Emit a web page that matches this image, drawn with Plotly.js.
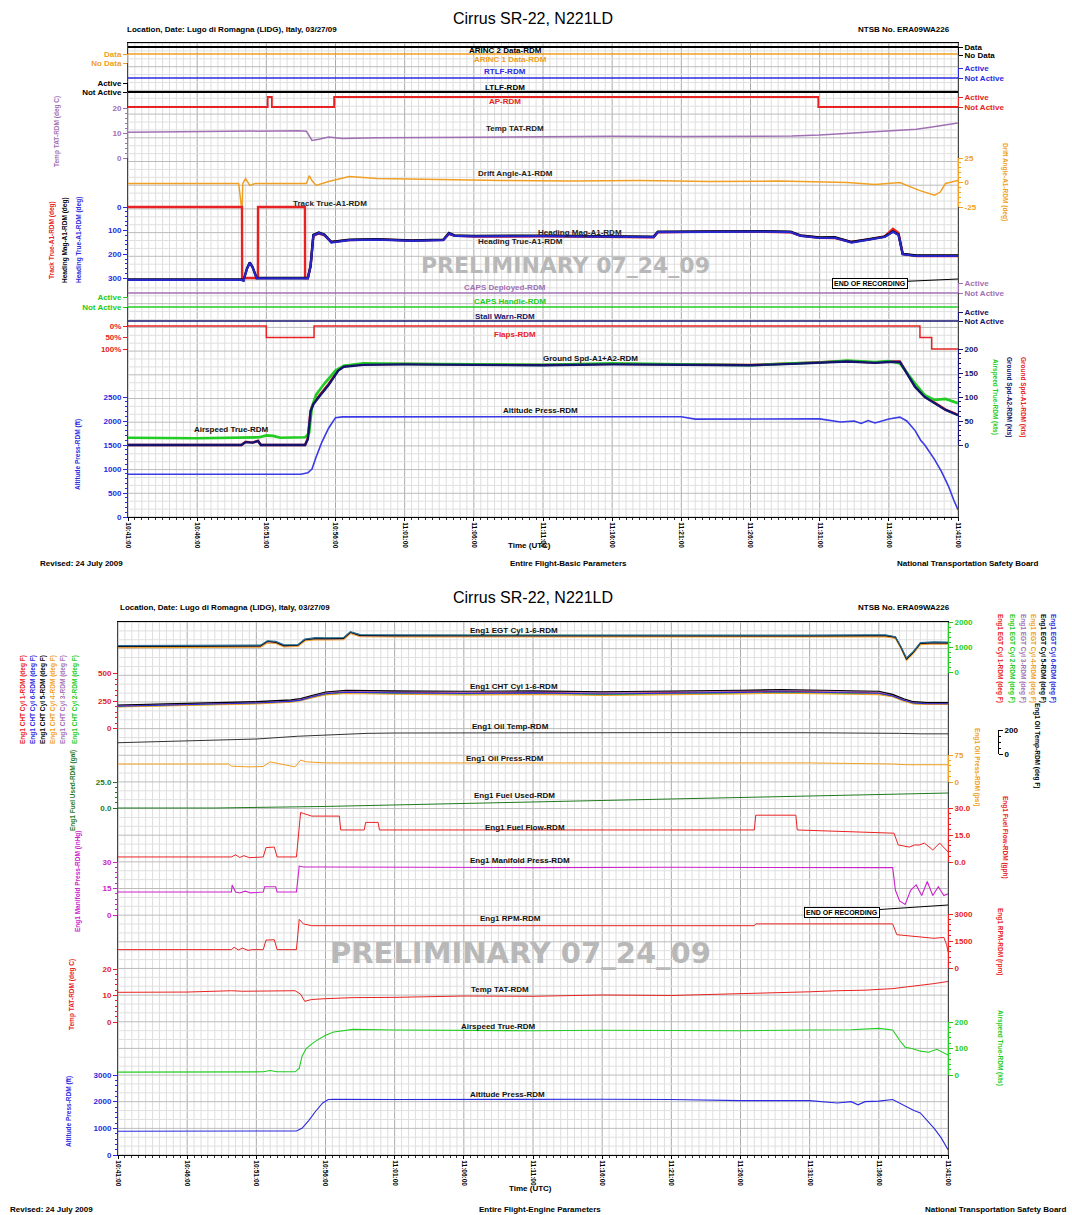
<!DOCTYPE html>
<html>
<head>
<meta charset="utf-8">
<script src="https://cdn.plot.ly/plotly-3.0.1.min.js"></script>
<style>html,body{margin:0;padding:0;background:#fff;}#chart{width:1072px;height:1215px;}</style>
</head>
<body>
<div id="chart"></div>
<script>
// ================= DATA =================
const tickMinutes = [0, 5, 10, 15, 20, 25, 30, 35, 40, 45, 50, 55, 60];
const tickLabels = ['10:41:00','10:46:00','10:51:00','10:56:00','11:01:00','11:06:00','11:11:00','11:16:00','11:21:00','11:26:00','11:31:00','11:36:00','11:41:00'];

// ---- Basic parameters (top chart) ----
const tFull = [0, 60];
const arinc2Data = [1, 1];
const arinc1Data = [1, 1];
const rtlf = [0, 0];
const ltlf = [0, 0];
const tAp = [0, 10.1, 10.1, 10.4, 10.4, 14.9, 14.9, 49.9, 49.9, 60];
const apState = [0, 0, 1, 1, 0, 0, 1, 1, 0, 0];
const capsDeployed = [0, 0];
const capsHandle = [0, 0];
const stallWarn = [0, 0];
const tFlaps = [0, 10.0, 10.0, 13.45, 13.45, 57.25, 57.25, 58.1, 58.1, 60];
const flapsPct = [0, 0, 50, 50, 0, 0, 50, 50, 100, 100];

const tTatTop = [0, 5, 8.5, 10, 12.3, 12.9, 13.3, 13.8, 14.5, 15.5, 18, 25, 30, 35, 40, 45, 48, 50, 52, 54, 56, 57, 58, 59, 60];
const tatTop = [10.3, 10.5, 10.8, 10.9, 10.9, 10.7, 7.0, 7.5, 8.4, 7.8, 8.1, 8.3, 8.6, 8.7, 8.6, 8.8, 8.8, 9.2, 9.8, 10.4, 11.0, 11.5, 12.3, 13.1, 14.0];

const tDrift = [0, 8.0, 8.2, 8.25, 8.3, 8.5, 8.8, 9.2, 12.9, 13.1, 13.3, 13.6, 14.5, 16, 18, 22, 27, 32, 37, 42, 47, 52, 54, 55.8, 57.2, 58.3, 58.7, 59.1, 60];
const driftAngle = [-1, -1, -25, -25, -1, 4, -3, -1, -1, 7, 2, -3, 1, 6, 4, 3, 2, 1.5, 2, 1, 1.5, 0, -2, 0, -8, -13, -10, -1, 2];

const tHdg = [0, 8.2, 8.35, 8.6, 8.8, 9.0, 9.3, 13.0, 13.2, 13.4, 13.8, 14.2, 14.7, 16, 18, 20.5, 22.8, 23.2, 23.6, 25, 30, 35, 38.0, 38.3, 42, 46, 47.9, 48.6, 50.0, 51.1, 52.3, 53.6, 54.7, 55.3, 55.7, 56.0, 57, 60];
const headingTrue = [308, 308, 312, 262, 236, 255, 302, 302, 250, 120, 110, 118, 150, 140, 138, 143, 140, 112, 122, 124, 123, 125, 127, 106, 104, 104, 106, 122, 131, 130, 150, 138, 127, 105, 118, 200, 207, 207];
const headingMag = [306, 306, 310, 260, 234, 253, 300, 300, 248, 118, 108, 116, 148, 138, 136, 141, 138, 110, 120, 122, 121, 123, 125, 104, 102, 102, 104, 120, 129, 128, 148, 136, 125, 103, 116, 198, 205, 205];
const tTrk = [0, 8.24, 8.25, 9.39, 9.4, 12.79, 12.8, 13.0, 13.2, 13.4, 13.8, 14.2, 14.7, 16, 18, 20.5, 22.8, 23.2, 23.6, 25, 30, 35, 38.0, 38.3, 42, 46, 47.9, 48.6, 50.0, 51.1, 52.3, 53.6, 54.7, 55.3, 55.7, 56.0, 57, 60];
const trackTrue = [0, 0, 300, 300, 0, 0, 300, 300, 250, 122, 112, 120, 148, 140, 137, 142, 139, 114, 121, 125, 124, 126, 128, 107, 104, 105, 107, 121, 130, 131, 148, 137, 124, 92, 110, 198, 207, 207];

const tGs = [0, 8.2, 8.5, 9.0, 9.4, 9.6, 12.8, 13.0, 13.2, 13.4, 13.8, 14.5, 15.2, 15.6, 17, 20, 25, 30, 35, 40, 45, 48, 50, 52, 54, 55, 55.8, 56.9, 57.6, 58.3, 59.1, 60];
const groundSpdA1 = [0, 0, 7, 5, 9, 0, 0, 14, 72, 87, 102, 127, 156, 164, 168, 169, 168, 167, 169, 168, 167, 170, 173, 175, 172, 174, 174, 122, 101, 89, 74, 63];
const groundSpdA2 = [0, 0, 6, 5, 8, 0, 0, 12, 70, 85, 100, 125, 155, 163, 167, 168, 167, 166, 168, 167, 166, 169, 172, 174, 171, 173, 173, 121, 100, 88, 73, 62];
const tTasTop = [0, 5, 9.5, 10.0, 10.5, 11, 12.8, 13.1, 13.3, 13.6, 14.2, 15, 15.6, 17, 20, 25, 30, 35, 40, 45, 48, 50, 52, 54, 55, 55.8, 56.9, 57.6, 58.3, 59.1, 60];
const tasTop = [15, 14, 16, 20, 19, 15, 16, 25, 80, 105, 128, 155, 165, 170, 169, 168, 167, 170, 168, 166, 170, 172, 176, 173, 175, 170, 128, 104, 94, 96, 87];

const tAltTop = [0, 10, 12.5, 13.0, 13.3, 13.6, 14.0, 14.5, 15.0, 15.5, 20, 25, 30, 35, 40, 41, 45, 50, 51.5, 52.5, 53, 53.5, 54, 55, 55.8, 56.3, 56.9, 57.3, 57.6, 58.3, 58.8, 59.3, 59.7, 60];
const altTop = [890, 900, 890, 920, 1000, 1250, 1550, 1850, 2070, 2085, 2085, 2080, 2090, 2085, 2090, 2040, 2040, 2045, 1980, 2000, 1950, 2010, 1960, 2040, 2080, 2000, 1800, 1600, 1500, 1200, 950, 650, 350, 150];

// ---- Engine parameters (bottom chart) ----
const tEgt = [0, 5, 8.2, 10.3, 10.8, 11.4, 12.0, 13.0, 13.5, 14.3, 15.0, 16.3, 16.8, 17.5, 20, 25, 30, 35, 40, 45, 50, 54, 55.5, 56.2, 56.6, 57.0, 57.5, 58, 59, 60];
const egtCyl1 = [1030, 1030, 1040, 1050, 1230, 1200, 1060, 1080, 1300, 1350, 1340, 1350, 1600, 1470, 1460, 1460, 1450, 1450, 1450, 1450, 1450, 1460, 1460, 1400, 1000, 520, 800, 1150, 1180, 1170];
const egtCyl2 = [1060, 1055, 1065, 1080, 1260, 1230, 1090, 1100, 1320, 1380, 1370, 1380, 1620, 1500, 1490, 1485, 1480, 1480, 1475, 1480, 1480, 1490, 1490, 1420, 1020, 560, 830, 1180, 1210, 1200];
const egtCyl3 = [1010, 1010, 1020, 1030, 1200, 1180, 1040, 1060, 1280, 1330, 1320, 1330, 1580, 1450, 1440, 1440, 1435, 1430, 1435, 1430, 1435, 1440, 1445, 1380, 980, 500, 780, 1130, 1160, 1150];
const egtCyl4 = [990, 995, 1000, 1010, 1180, 1160, 1020, 1040, 1260, 1310, 1300, 1310, 1560, 1430, 1420, 1420, 1415, 1410, 1415, 1410, 1415, 1420, 1425, 1360, 960, 480, 760, 1110, 1140, 1130];
const egtCyl5 = [1045, 1040, 1050, 1065, 1250, 1215, 1075, 1090, 1310, 1365, 1355, 1365, 1610, 1485, 1475, 1470, 1465, 1465, 1460, 1465, 1465, 1475, 1475, 1410, 1010, 540, 815, 1165, 1195, 1185];
const egtCyl6 = [1075, 1070, 1080, 1095, 1270, 1245, 1105, 1115, 1335, 1395, 1385, 1395, 1635, 1515, 1505, 1500, 1495, 1495, 1490, 1495, 1495, 1505, 1505, 1435, 1040, 580, 845, 1195, 1225, 1215];

const tCht = [0, 5, 10, 12.5, 13.2, 14, 15, 16.5, 18, 20, 25, 30, 35, 40, 45, 48, 50, 53, 55, 56, 56.8, 57.5, 58.5, 60];
const chtCyl1 = [205, 218, 235, 250, 262, 290, 320, 335, 330, 330, 325, 330, 320, 325, 335, 340, 335, 330, 325, 300, 260, 235, 228, 228];
const chtCyl2 = [198, 212, 228, 244, 255, 282, 310, 325, 320, 318, 312, 318, 308, 312, 322, 328, 324, 318, 314, 292, 252, 228, 222, 222];
const chtCyl3 = [210, 224, 240, 256, 268, 296, 326, 342, 338, 336, 330, 336, 328, 332, 342, 348, 342, 336, 332, 306, 266, 240, 232, 233];
const chtCyl4 = [195, 208, 224, 240, 252, 278, 305, 318, 314, 312, 305, 310, 300, 305, 315, 320, 316, 312, 308, 288, 248, 224, 218, 218];
const chtCyl5 = [214, 228, 244, 260, 272, 300, 332, 348, 344, 342, 338, 342, 334, 338, 348, 354, 348, 342, 338, 310, 270, 244, 236, 236];
const chtCyl6 = [202, 215, 232, 247, 258, 286, 316, 330, 326, 324, 318, 324, 314, 318, 328, 334, 330, 324, 320, 296, 256, 232, 225, 225];

const tOilT = [0, 10, 13, 15, 18, 20, 30, 40, 50, 55, 56.5, 58, 60];
const oilTemp = [94, 125, 148, 160, 172, 175, 178, 178, 177, 176, 172, 168, 168];
const tOilP = [0, 8.0, 8.2, 9.5, 10.5, 11.0, 11.5, 12.8, 13.2, 13.6, 15, 20, 30, 40, 50, 56, 57, 60];
const oilPress = [50, 50, 44, 42, 43, 56, 52, 42, 61, 56, 53, 53, 53, 53, 53, 50, 48, 48];
const tFuelUsed = [0, 7.0, 15, 20, 30, 40, 50, 56, 60];
const fuelUsed = [0, 0, 1.5, 3, 6, 9, 12, 13.5, 14.4];
const tFuelFlow = [0, 8.2, 8.5, 8.8, 9.1, 9.5, 10.5, 10.7, 11.3, 11.5, 12.9, 13.2, 13.4, 14.0, 16.0, 16.1, 17.8, 17.9, 18.8, 18.9, 30, 46.0, 46.1, 49.0, 49.1, 56.1, 56.4, 56.8, 57.2, 57.6, 57.9, 58.3, 58.9, 59.4, 60];
const fuelFlow = [2.8, 2.8, 4.0, 2.5, 3.5, 2.4, 2.8, 8.0, 8.3, 2.8, 2.8, 27.5, 27.0, 25.5, 25.5, 17.8, 17.8, 22.0, 22.0, 17.8, 17.8, 17.8, 26.0, 26.0, 17.8, 16.0, 9.5, 9.0, 8.3, 9.5, 9.4, 10.5, 6.7, 10.5, 5.6];
const tMap = [0, 8.2, 8.25, 8.5, 8.8, 9.2, 9.6, 10.5, 10.6, 11.4, 11.5, 12.9, 13.1, 13.4, 15, 20, 30, 40, 50, 56.0, 56.2, 56.5, 56.9, 57.3, 57.7, 58.1, 58.5, 58.9, 59.3, 59.7, 60];
const manifoldPress = [13, 13, 17, 13, 12.5, 13.5, 12.5, 13, 16, 16, 13, 13, 27.7, 27.2, 27.2, 27.0, 26.8, 27.0, 27.0, 26.8, 14, 8, 6, 14, 17, 11, 19, 11, 16, 11, 12];
const tRpm = [0, 8.2, 8.4, 8.7, 9.0, 9.4, 9.7, 10.5, 10.7, 11.3, 11.5, 12.9, 13.1, 13.4, 14.0, 20, 30, 40, 46.0, 46.1, 50, 56.0, 56.3, 57, 58, 59, 59.7, 59.9, 60];
const rpm = [1020, 1020, 1150, 1000, 1100, 980, 1020, 1020, 1550, 1570, 1020, 1020, 2700, 2450, 2350, 2350, 2340, 2350, 2350, 2450, 2450, 2450, 1850, 1800, 1750, 1650, 1700, 1300, 900];
const tTatBot = [0, 5, 8.2, 9, 12.8, 13.2, 13.5, 14.0, 15, 17, 20, 25, 30, 35, 40, 45, 50, 52, 54, 56, 57, 58, 59, 60];
const tatBot = [11.2, 11.3, 11.8, 11.6, 11.8, 10.5, 7.8, 8.5, 8.8, 9.2, 9.3, 9.8, 9.7, 10.2, 10.0, 10.6, 11.4, 11.8, 12.0, 12.6, 13.2, 13.8, 14.5, 15.3];
const tTasBot = [0, 5, 10.5, 11.0, 11.5, 12.8, 13.1, 13.3, 13.6, 14.2, 15, 15.6, 17, 20, 25, 30, 35, 40, 45, 50, 53, 55, 56.0, 56.5, 56.9, 57.4, 58, 58.6, 59.2, 60];
const tasBot = [11, 11, 12, 17, 12, 12, 25, 70, 100, 125, 150, 162, 172, 170, 168, 167, 169, 168, 167, 170, 171, 176, 170, 131, 105, 100, 90, 86, 97, 75];
const tAltBot = [0, 10, 12.9, 13.3, 13.8, 14.3, 14.8, 15.2, 15.6, 20, 25, 30, 35, 40, 45, 50, 52, 53, 53.5, 54, 55, 56.0, 56.5, 57.0, 57.5, 58.0, 58.5, 59.0, 59.5, 60];
const altBot = [890, 900, 900, 1000, 1300, 1650, 1950, 2080, 2090, 2080, 2090, 2080, 2090, 2080, 2040, 2040, 1950, 2000, 1880, 2000, 2020, 2080, 1950, 1800, 1680, 1580, 1300, 1000, 650, 200];

// ================= STYLE / LAYOUT =================
const W = 1072, H = 1215;
const PX = p => p / W, PY = p => 1 - p / H;
const FONT = 'Liberation Sans, Arial, sans-serif';
const NARROW = 'Liberation Sans Narrow, Liberation Sans, Arial, sans-serif';
const C = {
  black:'#000000', orange:'#f0a024', blue:'#2a2ae0', red:'#e82222', purple:'#a070b4',
  green:'#22cc22', navy:'#14146e', magenta:'#cc22cc', dgreen:'#1f7a1f'
};

const charts = [
  { base:'y', xMain:'x', xData:'x5', xDisp:'x3', top:43, bot:517, left:128, right:958,
    signals:[
      {series:[{t:tFull, v:arinc2Data, c:C.black, w:1.8}], cal:[47,1,55,0], tv:[1,0], tt:['Data','No Data'], side:'right', color:C.black},
      {series:[{t:tFull, v:arinc1Data, c:C.orange, w:1.5}], cal:[54,1,63,0], tv:[1,0], tt:['Data','No Data'], side:'left', color:C.orange},
      {series:[{t:tFull, v:rtlf, c:C.blue, w:1.5}], cal:[68,1,78,0], tv:[1,0], tt:['Active','Not Active'], side:'right', color:C.blue},
      {series:[{t:tFull, v:ltlf, c:C.black, w:1.8}], cal:[83,1,92,0], tv:[1,0], tt:['Active','Not Active'], side:'left', color:C.black},
      {series:[{t:tAp, v:apState, c:C.red, w:1.8}], cal:[97,1,107,0], tv:[1,0], tt:['Active','Not Active'], side:'right', color:C.red},
      {series:[{t:tTatTop, v:tatTop, c:C.purple, w:1.5}], cal:[108,20,158,0], tv:[20,10,0], side:'left', color:C.purple, minor:2},
      {series:[{t:tDrift, v:driftAngle, c:C.orange, w:1.5}], cal:[158,25,207,-25], tv:[25,0,-25], side:'right', color:C.orange, minor:5},
      {series:[{t:tTrk, v:trackTrue, c:C.red, w:2.4},{t:tHdg, v:headingMag, c:C.black, w:2.4},{t:tHdg, v:headingTrue, c:'#2626c8', w:2.2}], cal:[207,0,278,300], tv:[0,100,200,300], side:'left', color:C.blue, minor:20},
      {series:[{t:tFull, v:capsDeployed, c:C.purple, w:1.5}], cal:[283,1,293,0], tv:[1,0], tt:['Active','Not Active'], side:'right', color:C.purple},
      {series:[{t:tFull, v:capsHandle, c:C.green, w:1.5}], cal:[297,1,307,0], tv:[1,0], tt:['Active','Not Active'], side:'left', color:C.green},
      {series:[{t:tFull, v:stallWarn, c:C.navy, w:1.5}], cal:[312,1,321,0], tv:[1,0], tt:['Active','Not Active'], side:'right', color:C.navy},
      {series:[{t:tFlaps, v:flapsPct, c:C.red, w:1.5}], cal:[326,0,349,100], tv:[0,50,100], tt:['0%','50%','100%'], side:'left', color:C.red},
      {series:[{t:tGs, v:groundSpdA1, c:C.red, w:2.4},{t:tTasTop, v:tasTop, c:C.green, w:2.6},{t:tGs, v:groundSpdA2, c:C.navy, w:2.4}], cal:[349,200,445,0], tv:[200,150,100,50,0], side:'right', color:C.navy, minor:10},
      {series:[{t:tAltTop, v:altTop, c:'#3a3ae6', w:1.6}], cal:[397,2500,517,0], tv:[2500,2000,1500,1000,500,0], side:'left', color:C.blue, minor:100}
    ]},
  { base:'y2', xMain:'x2', xData:'x6', xDisp:'x4', top:622, bot:1155, left:118, right:948,
    signals:[
      {series:[{t:tEgt, v:egtCyl1, c:C.red, w:1.1},{t:tEgt, v:egtCyl2, c:C.green, w:1.1},{t:tEgt, v:egtCyl3, c:C.purple, w:1.1},{t:tEgt, v:egtCyl4, c:C.orange, w:1.1},{t:tEgt, v:egtCyl5, c:C.black, w:1.1},{t:tEgt, v:egtCyl6, c:'#2a6a9a', w:1.1}], cal:[622.5,2000,672.5,0], tv:[2000,1000,0], side:'right', color:C.green, minor:200},
      {series:[{t:tCht, v:chtCyl1, c:C.red, w:1.1},{t:tCht, v:chtCyl2, c:C.green, w:1.1},{t:tCht, v:chtCyl3, c:C.purple, w:1.1},{t:tCht, v:chtCyl4, c:C.orange, w:1.1},{t:tCht, v:chtCyl5, c:C.black, w:1.1},{t:tCht, v:chtCyl6, c:C.blue, w:1.1}], cal:[673.5,500,728.5,0], tv:[500,250,0], side:'left', color:C.red, minor:50},
      {series:[{t:tOilT, v:oilTemp, c:'#333333', w:1}], cal:[730,200,754,0], tv:[200,0], side:'right', color:C.black, minor:50, pos:998},
      {series:[{t:tOilP, v:oilPress, c:C.orange, w:1}], cal:[755,75,782,0], tv:[75,0], side:'right', color:C.orange, minor:15},
      {series:[{t:tFuelUsed, v:fuelUsed, c:C.dgreen, w:1}], cal:[782,25,808,0], tv:[25,0], tt:['25.0','0.0'], side:'left', color:C.dgreen, minor:5},
      {series:[{t:tFuelFlow, v:fuelFlow, c:C.red, w:1}], cal:[808,30,862,0], tv:[30,15,0], tt:['30.0','15.0','0.0'], side:'right', color:C.red, minor:3},
      {series:[{t:tMap, v:manifoldPress, c:C.magenta, w:1.1}], cal:[862,30,915,0], tv:[30,15,0], side:'left', color:C.magenta, minor:3},
      {series:[{t:tRpm, v:rpm, c:C.red, w:1}], cal:[914,3000,968,0], tv:[3000,1500,0], side:'right', color:C.red, minor:300},
      {series:[{t:tTatBot, v:tatBot, c:C.red, w:1}], cal:[969,20,1022,0], tv:[20,10,0], side:'left', color:C.red, minor:2},
      {series:[{t:tTasBot, v:tasBot, c:C.green, w:1.1}], cal:[1022,200,1075,0], tv:[200,100,0], side:'right', color:C.green, minor:20},
      {series:[{t:tAltBot, v:altBot, c:C.blue, w:1.1}], cal:[1075,3000,1155,0], tv:[3000,2000,1000,0], side:'left', color:C.blue, minor:200}
    ]}
];

function valAt(cal, p) { const [p1,v1,p2,v2] = cal; return v1 + (p - p1) * (v2 - v1) / (p2 - p1); }
function pixAt(cal, v) { const [p1,v1,p2,v2] = cal; return p1 + (v - v1) * (p2 - p1) / (v2 - v1); }

const traces = [
  {type:'scatter', mode:'lines', x:[], y:[], xaxis:'x', yaxis:'y', hoverinfo:'skip', showlegend:false},
  {type:'scatter', mode:'lines', x:[], y:[], xaxis:'x2', yaxis:'y2', hoverinfo:'skip', showlegend:false}
];
const layout = {
  width: W, height: H, margin:{l:0,r:0,t:0,b:0,pad:0},
  paper_bgcolor:'#ffffff', plot_bgcolor:'rgba(0,0,0,0)', showlegend:false,
  font:{family:FONT, size:8, color:'#000'},
  annotations:[], shapes:[]
};

function xAxisDef(ch, yid) {
  return {
    domain:[PX(ch.left), PX(ch.right)], anchor:yid, range:[0,60],
    tickmode:'array', tickvals:tickMinutes, ticktext:tickLabels, tickangle:90,
    tickfont:{family:NARROW, size:6.5, color:'#000', weight:'bold'},
    ticks:'outside', ticklen:3, tickcolor:'#000',
    showgrid:false, zeroline:false,
    minor:{tickmode:'linear', tick0:0, dtick:0.5, showgrid:false, ticks:'outside', ticklen:2, tickcolor:'#333'},
    showline:true, linecolor:'#000', linewidth:1, mirror:true, fixedrange:true
  };
}
function baseYDef(ch, xid) {
  return {
    domain:[PY(ch.bot), PY(ch.top)], anchor:xid, range:[0,20],
    showticklabels:false, ticks:'', showgrid:false, zeroline:false,
    showline:true, linecolor:'#444', linewidth:1, mirror:true, fixedrange:true
  };
}
layout.xaxis = xAxisDef(charts[0], 'y');
layout.yaxis = baseYDef(charts[0], 'x');
layout.xaxis2 = xAxisDef(charts[1], 'y2');
layout.yaxis2 = baseYDef(charts[1], 'x2');
charts.forEach((ch, i) => {
  const hidden = {domain:[PX(ch.left), PX(ch.right)], anchor:'free', position:0, range:[0,60], visible:false, fixedrange:true};
  layout['xaxis' + (3 + i)] = Object.assign({}, hidden);
  layout['xaxis' + (5 + i)] = Object.assign({}, hidden);
});

// grid (drawn beneath everything, positioned through the chart axes)
charts.forEach(ch => {
  for (let k = 0; k <= 120; k++) {
    const m = k / 2;
    layout.shapes.push({type:'line', layer:'below', xref:ch.xMain, yref:'paper', x0:m, x1:m,
      y0:PY(ch.bot), y1:PY(ch.top), line:{color: k % 10 === 0 ? '#aaaaaa' : '#dedede', width:1}});
  }
  for (let k = 0; k <= 60; k++) {
    const v = k / 3;
    layout.shapes.push({type:'line', layer:'below', xref:'paper', yref:ch.base, x0:PX(ch.left), x1:PX(ch.right),
      y0:v, y1:v, line:{color: k % 3 === 0 ? '#bcbcbc' : '#e0e0e0', width:1}});
  }
});

let n = 3;
charts.forEach(ch => {
  ch.signals.forEach(s => {
    const dId = 'y' + n, vId = 'y' + (n + 1);
    layout['yaxis' + n] = {
      domain:[PY(ch.bot), PY(ch.top)], anchor: ch.xData,
      range:[valAt(s.cal, ch.bot), valAt(s.cal, ch.top)],
      visible:false, showgrid:false, zeroline:false, fixedrange:true
    };
    const pix = s.tv.map(v => pixAt(s.cal, v));
    const pTop = Math.min(...pix), pBot = Math.max(...pix);
    const disp = {
      anchor: ch.xDisp, side: s.side,
      domain:[PY(pBot), PY(pTop)], range:[valAt(s.cal, pBot), valAt(s.cal, pTop)],
      showline:true, linecolor:s.color, linewidth:1,
      ticks:'outside', ticklen:4, tickcolor:s.color, tickwidth:1,
      tickmode:'array', tickvals:s.tv, ticktext: s.tt || s.tv.map(String),
      tickfont:{family:FONT, size:8, color:s.color, weight:'bold'},
      showgrid:false, zeroline:false, fixedrange:true
    };
    if (s.pos) { disp.anchor = 'free'; disp.position = PX(s.pos); }
    if (s.minor) disp.minor = {tickmode:'linear', tick0:0, dtick:s.minor, ticks:'outside', ticklen:2, tickcolor:s.color, showgrid:false};
    layout['yaxis' + (n + 1)] = disp;
    traces.push({type:'scatter', mode:'lines', x:[], y:[], xaxis:ch.xDisp, yaxis:vId, hoverinfo:'skip', showlegend:false});
    s.series.forEach(sr => {
      traces.push({type:'scatter', mode:'lines', x:sr.t, y:sr.v, xaxis:ch.xData, yaxis:dId,
        line:{color:sr.c, width:sr.w}, hoverinfo:'skip', showlegend:false});
    });
    n += 2;
  });
});

// ---- text ----
const A = layout.annotations;
function lab(text, x, y, color, size, extra) {
  A.push(Object.assign({text:'<b>' + text + '</b>', x:PX(x), y:PY(y), xref:'paper', yref:'paper',
    showarrow:false, xanchor:'center', yanchor:'middle',
    font:{family:FONT, size:size || 8, color:color || '#000'}}, extra || {}));
}
function vlab(text, x, y, color, angle) {
  A.push({text:'<b>' + text + '</b>', x:PX(x), y:PY(y), xref:'paper', yref:'paper', showarrow:false,
    xanchor:'center', yanchor:'middle', textangle:angle, font:{family:NARROW, size:6.5, color:color}});
}
function plain(text, x, y, size, anchor, bold) {
  A.push({text: bold ? '<b>' + text + '</b>' : text, x:PX(x), y:PY(y), xref:'paper', yref:'paper', showarrow:false,
    xanchor:anchor, yanchor:'middle', font:{family:FONT, size:size, color:'#000'}});
}

// headers & footers
[[18, 29, 545, 563], [597, 607, 1188, 1209]].forEach((r, i) => {
  plain('Cirrus SR-22, N221LD', 533, r[0], 16, 'center', false);
  plain('Location, Date: Lugo di Romagna (LIDG), Italy, 03/27/09', i ? 118 : 125, r[1], 8, 'left', true);
  plain('NTSB No. ERA09WA226', 952, r[1], 8, 'right', true);
  plain('Time (UTC)', i ? 530 : 529, r[2], 8, 'center', true);
});
plain('Revised: 24 July 2009', 38, 563, 8, 'left', true);
plain('Entire Flight-Basic Parameters', 568, 563, 8, 'center', true);
plain('National Transportation Safety Board', 1040, 563, 8, 'right', true);
plain('Revised: 24 July 2009', 8, 1209, 8, 'left', true);
plain('Entire Flight-Engine Parameters', 540, 1209, 8, 'center', true);
plain('National Transportation Safety Board', 1068, 1209, 8, 'right', true);

// top chart trace labels
lab('ARINC 2 Data-RDM', 505, 50, C.black);
lab('ARINC 1 Data-RDM', 510, 59, C.orange);
lab('RTLF-RDM', 505, 72, C.blue);
lab('LTLF-RDM', 505, 87, C.black);
lab('AP-RDM', 505, 102, C.red);
lab('Temp TAT-RDM', 515, 128, '#222');
lab('Drift Angle-A1-RDM', 515, 173, '#222');
lab('Track True-A1-RDM', 330, 204, '#222');
lab('Heading Mag-A1-RDM', 580, 232, '#222');
lab('Heading True-A1-RDM', 520, 241, '#222');
lab('PRELIMINARY 07_24_09', 565, 265, '#b8b8b8', 22, {font:{family:'DejaVu Sans, Liberation Sans, sans-serif', size:22, color:'#b8b8b8'}});
lab('CAPS Deployed-RDM', 505, 287, C.purple);
lab('CAPS Handle-RDM', 510, 301, C.green);
lab('Stall Warn-RDM', 505, 316, C.navy);
lab('Flaps-RDM', 515, 335, C.red);
lab('Ground Spd-A1+A2-RDM', 590, 358, '#111');
lab('Altitude Press-RDM', 540, 410, '#111');
lab('Airspeed True-RDM', 232, 430, '#111');

// top chart axis titles
vlab('Temp TAT-RDM (deg C)', 57, 132, C.purple, -90);
vlab('Drift Angle-A1-RDM (deg)', 1005, 182, C.orange, 90);
vlab('Track True-A1-RDM (deg)', 52, 240, C.red, -90);
vlab('Heading Mag-A1-RDM (deg)', 65, 240, C.black, -90);
vlab('Heading True-A1-RDM (deg)', 79, 240, C.blue, -90);
vlab('Altitude Press-RDM (ft)', 78, 455, C.blue, -90);
vlab('Ground Spd-A1-RDM (kts)', 1023, 397, C.red, 90);
vlab('Ground Spd-A2-RDM (kts)', 1009, 397, C.navy, 90);
vlab('Airspeed True-RDM (kts)', 995, 397, C.green, 90);

// bottom chart trace labels
lab('Eng1 EGT Cyl 1-6-RDM', 514, 630, '#111');
lab('Eng1 CHT Cyl 1-6-RDM', 514, 686, '#111');
lab('Eng1 Oil Temp-RDM', 510, 726, '#111');
lab('Eng1 Oil Press-RDM', 505, 758, '#111');
lab('Eng1 Fuel Used-RDM', 514, 795, '#111');
lab('Eng1 Fuel Flow-RDM', 525, 827, '#111');
lab('Eng1 Manifold Press-RDM', 520, 860, '#111');
lab('Eng1 RPM-RDM', 510, 918, '#111');
lab('PRELIMINARY 07_24_09', 520, 953, '#b8b8b8', 29, {font:{family:'DejaVu Sans, Liberation Sans, sans-serif', size:29, color:'#b8b8b8'}});
lab('Temp TAT-RDM', 500, 989, '#111');
lab('Airspeed True-RDM', 498, 1026, '#111');
lab('Altitude Press-RDM', 507, 1094, '#111');

// bottom chart axis titles
[['Eng1 EGT Cyl 1-RDM (deg F)',1000,C.red],['Eng1 EGT Cyl 2-RDM (deg F)',1012,C.green],['Eng1 EGT Cyl 3-RDM (deg F)',1023,C.purple],
 ['Eng1 EGT Cyl 4-RDM (deg F)',1033,C.orange],['Eng1 EGT Cyl 5-RDM (deg F)',1043,C.black],['Eng1 EGT Cyl 6-RDM (deg F)',1053,C.blue]]
 .forEach(a => vlab(a[0], a[1], 658, a[2], 90));
[['Eng1 CHT Cyl 1-RDM (deg F)',23,C.red],['Eng1 CHT Cyl 6-RDM (deg F)',33,C.blue],['Eng1 CHT Cyl 5-RDM (deg F)',43,C.black],
 ['Eng1 CHT Cyl 4-RDM (deg F)',53,C.orange],['Eng1 CHT Cyl 3-RDM (deg F)',63,C.purple],['Eng1 CHT Cyl 2-RDM (deg F)',75,C.green]]
 .forEach(a => vlab(a[0], a[1], 700, a[2], -90));
vlab('Eng1 Oil Temp-RDM (deg F)', 1037, 745, C.black, 90);
vlab('Eng1 Oil Press-RDM (psi)', 977, 767, C.orange, 90);
vlab('Eng1 Fuel Used-RDM (gal)', 73, 791, C.dgreen, -90);
vlab('Eng1 Fuel Flow-RDM (gph)', 1005, 837, C.red, 90);
vlab('Eng1 Manifold Press-RDM (inHg)', 78, 882, C.magenta, -90);
vlab('Eng1 RPM-RDM (rpm)', 1000, 942, C.red, 90);
vlab('Temp TAT-RDM (deg C)', 72, 995, C.red, -90);
vlab('Airspeed True-RDM (kts)', 1000, 1048, C.green, 90);
vlab('Altitude Press-RDM (ft)', 69, 1112, C.blue, -90);

// END OF RECORDING callouts
[[958, 279, -88, 4], [948, 905, -106, 7]].forEach(e => {
  A.push({text:'<b>END OF RECORDING</b>', x:PX(e[0]), y:PY(e[1]), xref:'paper', yref:'paper',
    showarrow:true, arrowhead:0, arrowwidth:1, arrowcolor:'#000', ax:e[2], ay:e[3],
    bordercolor:'#000', borderwidth:1, borderpad:1, bgcolor:'#ffffff',
    font:{family:FONT, size:7, color:'#000'}});
});

Plotly.newPlot('chart', traces, layout, {staticPlot:true, displayModeBar:false});
</script>
</body>
</html>
